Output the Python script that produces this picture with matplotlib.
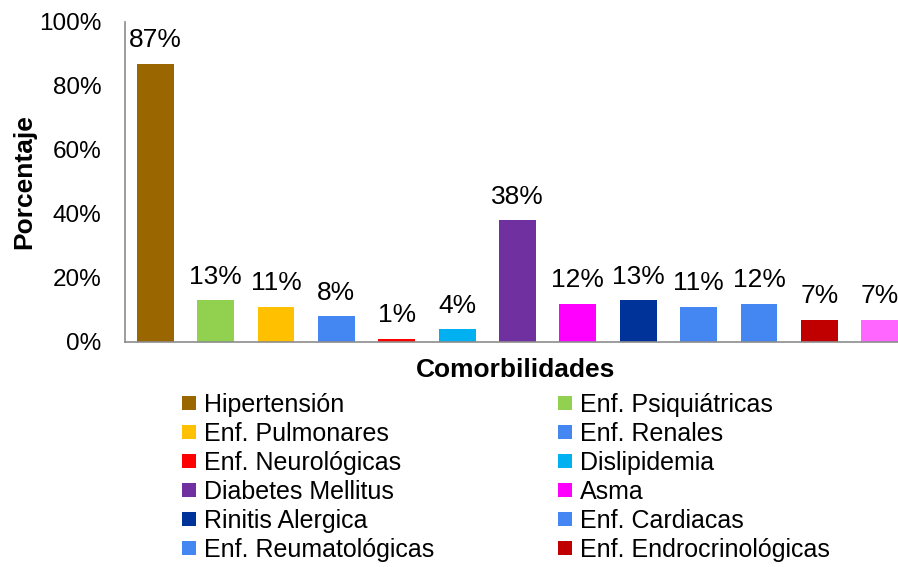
import numpy as np
import matplotlib.pyplot as plt
from matplotlib.patches import Patch

plt.rcParams['font.family'] = ['Liberation Sans', 'DejaVu Sans']

labels = ['Hipertensión', 'Enf. Psiquiátricas', 'Enf. Pulmonares', 'Enf. Renales',
          'Enf. Neurológicas', 'Dislipidemia', 'Diabetes Mellitus', 'Asma',
          'Rinitis Alergica', 'Enf. Cardiacas', 'Enf. Reumatológicas',
          'Enf. Endrocrinológicas', 'Otras']
values = [87, 13, 11, 8, 1, 4, 38, 12, 13, 11, 12, 7, 7]
colors = ['#996600', '#92D050', '#FFC000', '#4487F2', '#FF0000', '#00B0F0',
          '#7030A0', '#FF00FF', '#003399', '#4487F2', '#4487F2', '#C00000', '#FF66FF']
yticks = [0, 20, 40, 60, 80, 100]

fig = plt.figure(figsize=(8.98, 5.67), dpi=100)
ax = fig.add_axes([125/898, 1 - 342/567, 785/898, 320/567])

x = np.arange(len(values))
bars = ax.bar(x, values, width=0.61, color=colors)
for xi, v in zip(x, values):
    ax.annotate(f'{v}%', (xi, v), xytext=(0, 12), textcoords='offset points',
                ha='center', va='baseline', fontsize=19)

ax.set_xlim(-0.5, len(values) - 0.5)
ax.set_ylim(0, 100)
ax.set_yticks(yticks)
ax.set_yticklabels([f'{t}%' for t in yticks], fontsize=17.5)
ax.tick_params(axis='y', length=0, pad=17)
ax.set_xticks([])
for s in ['top', 'right']:
    ax.spines[s].set_visible(False)
for s in ['left', 'bottom']:
    ax.spines[s].set_color('#8c8c8c')
    ax.spines[s].set_linewidth(1.2)

ax.set_ylabel('Porcentaje', fontsize=19, fontweight='bold')
ax.yaxis.set_label_coords(-0.113, 0.5)
fig.text(516/898, 1 - 370/567, 'Comorbilidades', fontsize=19, fontweight='bold',
         ha='center', va='center')

# legend, row-wise order like the original
order = list(range(0, 12, 2)) + list(range(1, 12, 2))
handles = [Patch(facecolor=colors[i], label=labels[i]) for i in order]
fig.legend(handles=handles, ncol=2, loc='upper left',
           bbox_to_anchor=(182/898, 1 - 393/567), frameon=False, fontsize=18,
           handlelength=0.55, handleheight=0.5, handletextpad=0.32,
           labelspacing=0.2, columnspacing=4.95, borderpad=0, borderaxespad=0)

fig.savefig('out.png', dpi=100)
